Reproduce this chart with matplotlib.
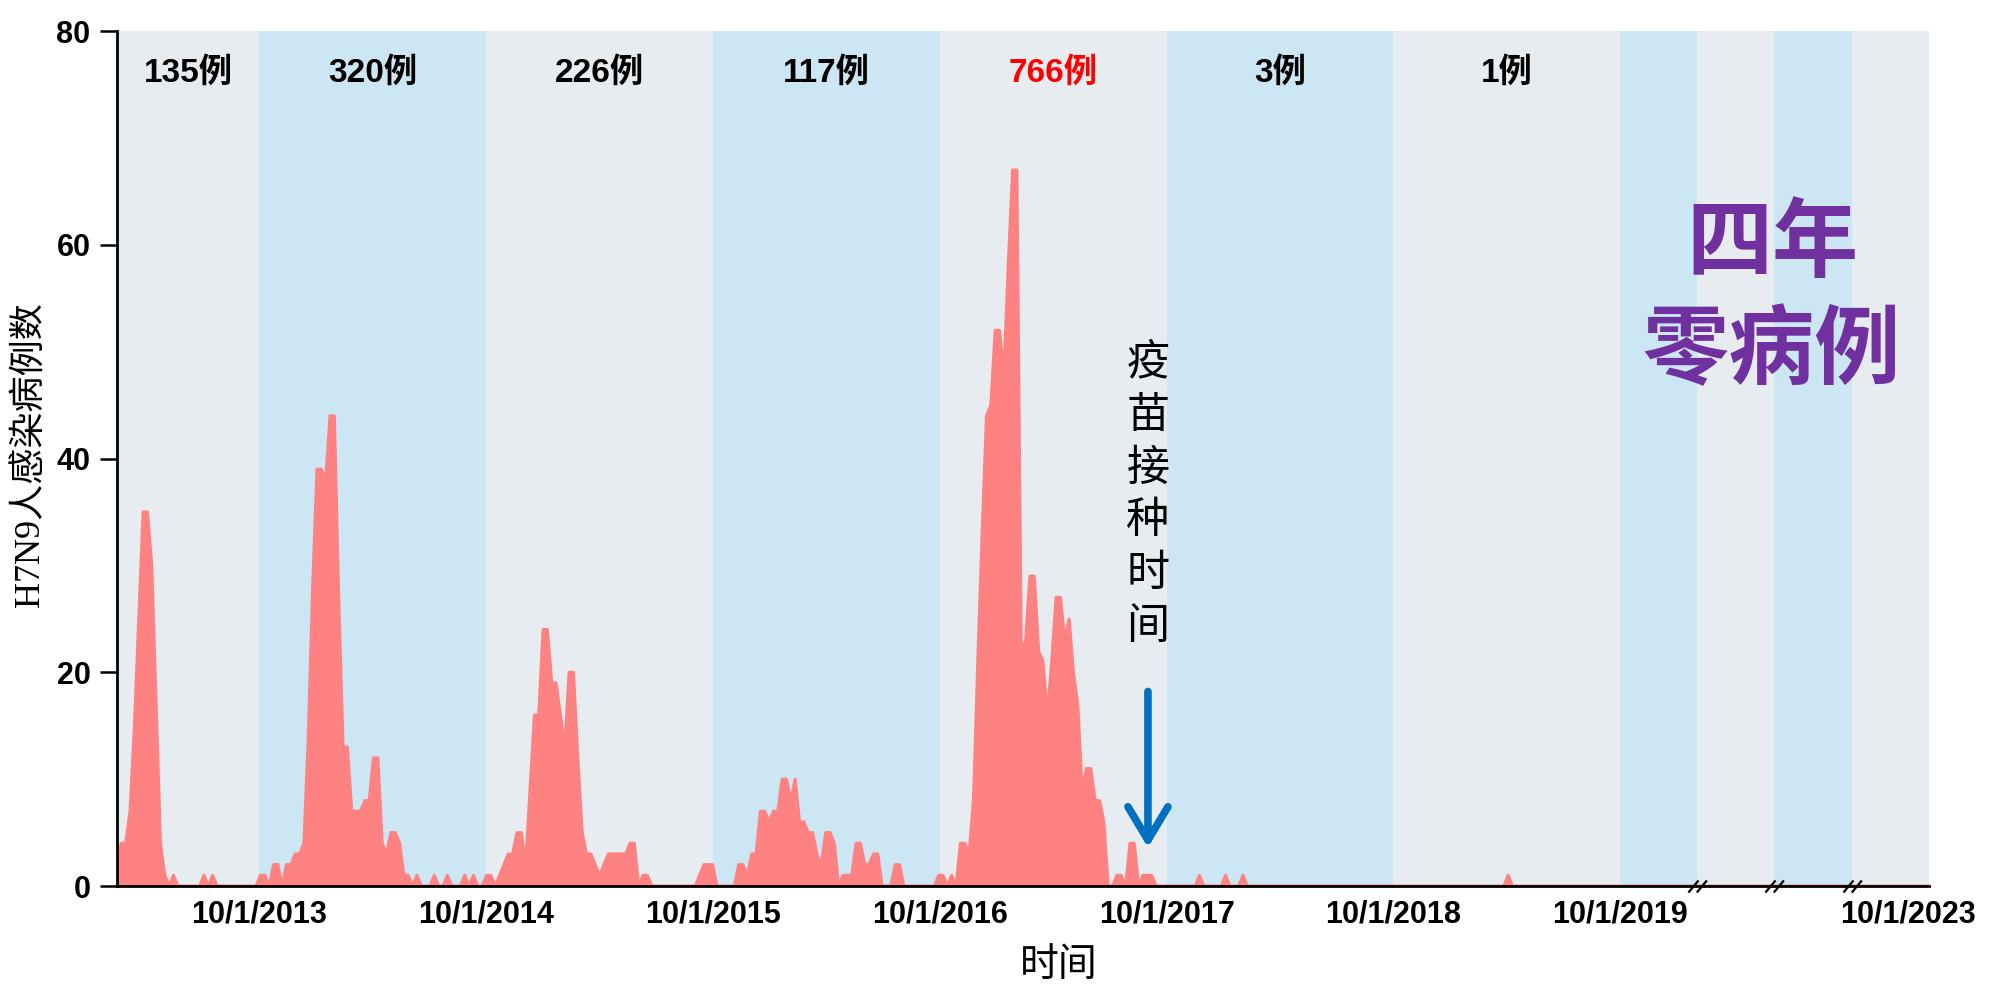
import datetime as dt
import numpy as np
import matplotlib
matplotlib.use("Agg")
import matplotlib.pyplot as plt
from matplotlib.path import Path
from matplotlib.transforms import ScaledTranslation

# ---------------------------------------------------------------------------
# Weekly H7N9 human infections, one list per season (1 Oct - 30 Sep).
# The first week of the series starts on week0; each season list continues
# directly from the previous one.
# ---------------------------------------------------------------------------
week0 = dt.date(2013, 2, 14)

cases_2012_13 = [2, 4, 4, 7, 15, 25, 35, 35, 30, 17, 4, 1, 0, 1, 0, 0, 0, 0, 0, 0,
                 1, 0, 1, 0, 0, 0, 0, 0, 0, 0, 0, 0, 0]
cases_2013_14 = [1, 1, 0, 2, 2, 0, 2, 2, 3, 3, 4, 14, 28, 39, 39, 38, 44, 44, 27, 13,
                 13, 7, 7, 7, 8, 8, 12, 12, 4, 3, 5, 5, 4, 1, 1, 0, 1, 0, 0, 0,
                 1, 0, 0, 1, 0, 0, 0, 1, 0, 1, 0, 0]
cases_2014_15 = [1, 1, 0, 1, 2, 3, 3, 5, 5, 2, 9, 16, 16, 24, 24, 19, 19, 16, 13, 20,
                 20, 12, 5, 3, 3, 2, 1, 2, 3, 3, 3, 3, 3, 4, 4, 0, 1, 1, 0, 0,
                 0, 0, 0, 0, 0, 0, 0, 0, 0, 1, 2, 2]
cases_2015_16 = [2, 0, 0, 0, 0, 0, 2, 2, 1, 3, 3, 7, 7, 6, 7, 7, 10, 10, 8, 10,
                 6, 6, 5, 5, 3, 2, 5, 5, 4, 0, 1, 1, 1, 4, 4, 2, 2, 3, 3, 0,
                 0, 0, 2, 2, 0, 0, 0, 0, 0, 0, 0, 0]
cases_2016_17 = [1, 1, 0, 1, 0, 4, 4, 3, 8, 21, 33, 44, 45, 52, 52, 48, 58, 67, 67, 22,
                 23, 29, 29, 22, 21, 16, 21, 27, 27, 23, 25, 20, 17, 9, 11, 11, 8, 8, 6, 0,
                 0, 1, 1, 0, 4, 4, 0, 1, 1, 1, 0, 0, 0]
cases_2017_18 = [0, 0, 0, 0, 0, 0, 0, 1, 0, 0, 0, 0, 0, 1, 0, 0, 0, 1, 0, 0,
                 0, 0, 0, 0, 0, 0, 0, 0, 0, 0, 0, 0, 0, 0, 0, 0, 0, 0, 0, 0,
                 0, 0, 0, 0, 0, 0, 0, 0, 0, 0, 0, 0]
cases_2018_19 = [0, 0, 0, 0, 0, 0, 0, 0, 0, 0, 0, 0, 0, 0, 0, 0, 0, 0, 0, 0,
                 0, 0, 0, 0, 0, 0, 1, 0, 0, 0, 0, 0, 0, 0, 0, 0, 0, 0, 0, 0,
                 0, 0, 0, 0, 0, 0, 0, 0, 0, 0, 0, 0]

# seasons after Oct 2019 are shown on a compressed axis; no cases reported
tail_cases = [0, 0, 0, 0]

season_totals = ["135例", "320例", "226例", "117例", "766例", "3例", "1例"]
season_total_colors = ["black", "black", "black", "black", "#FF0000", "black", "black"]
tick_labels = ["10/1/2013", "10/1/2014", "10/1/2015", "10/1/2016",
               "10/1/2017", "10/1/2018", "10/1/2019", "10/1/2023"]
vaccine_date = dt.date(2017, 9, 1)

# ---------------------------------------------------------------------------
ORIGIN = dt.date(2013, 10, 1)


def year_pos(d):
    return (d - ORIGIN).days / 365.25


TAIL_YEAR = 0.3406          # width of one compressed season
CJK = ["Noto Sans CJK SC"]
SANS_BOLD = ["Liberation Sans", "Noto Sans CJK SC"]
SERIF = ["Liberation Serif", "Noto Sans CJK SC"]
GREY = "#E6ECEF"
BLUE = "#CCE6F3"
RED = "#FF8282"

seasons = [cases_2012_13, cases_2013_14, cases_2014_15, cases_2015_16,
           cases_2016_17, cases_2017_18, cases_2018_19]
weekly = np.concatenate([np.asarray(s, float) for s in seasons])
x_weeks = np.array([year_pos(week0 + dt.timedelta(weeks=i)) for i in range(len(weekly))])

oct_bounds = [year_pos(dt.date(y, 10, 1)) for y in range(2013, 2020)]
x_start = year_pos(week0)
tail_edges = [oct_bounds[-1] + TAIL_YEAR * (k + 1) for k in range(len(tail_cases))]
x_end = tail_edges[-1]
band_edges = [x_start] + oct_bounds + tail_edges

x_all = np.concatenate([x_weeks, [oct_bounds[-1]], tail_edges])
y_all = np.concatenate([weekly, [0], tail_cases])

fig = plt.figure(figsize=(20, 10.08), dpi=100)
ax = fig.add_axes([0.0585, 0.121, 0.906, 0.8482])
ax.set_facecolor("white")

# alternating season bands
for i in range(len(band_edges) - 1):
    ax.axvspan(band_edges[i], band_edges[i + 1], color=GREY if i % 2 == 0 else BLUE,
               lw=0, zorder=0)

# case curve
ax.fill_between(x_all, y_all, 0, color=RED, lw=0, zorder=2)
ax.plot(x_all, y_all, color=RED, lw=2.2, zorder=2.5)

ax.set_xlim(x_start, x_end)
ax.set_ylim(0, 80)

# season totals
for i, (lab, col) in enumerate(zip(season_totals, season_total_colors)):
    xc = 0.5 * (band_edges[i] + band_edges[i + 1])
    ax.text(xc, 76.1, lab, ha="center", va="center", fontsize=24, fontweight="bold",
            family=SANS_BOLD, color=col, zorder=5)

# axes styling
for side in ("top", "right"):
    ax.spines[side].set_visible(False)
for side in ("left", "bottom"):
    ax.spines[side].set_linewidth(2.0)
    ax.spines[side].set_zorder(4)

ax.set_yticks([0, 20, 40, 60, 80])
ax.tick_params(axis="y", length=12, width=1.8, pad=7)
ax.tick_params(axis="x", length=0, pad=10)
xt = oct_bounds + [x_end]
ax.set_xticks(xt)
ax.set_xticklabels(tick_labels)
for lab in ax.get_xticklabels() + ax.get_yticklabels():
    lab.set_fontsize(22)
    lab.set_fontweight("bold")
    lab.set_family(SANS_BOLD)
last = ax.get_xticklabels()[-1]
last.set_transform(last.get_transform() + ScaledTranslation(-0.21, 0, fig.dpi_scale_trans))

# axis break marks on the compressed part
brk = Path([(-9.0, -6.0), (1.0, 6.0), (-0.7, -6.0), (9.3, 6.0)],
           [Path.MOVETO, Path.LINETO, Path.MOVETO, Path.LINETO])
ax.plot(tail_edges[:-1], [0] * (len(tail_edges) - 1), ls="none", marker=brk,
        markersize=13.5, markeredgecolor="black", markeredgewidth=1.6,
        markerfacecolor="none", clip_on=False, zorder=6)

ax.set_xlabel("时间", fontsize=28, family=CJK)
ax.xaxis.set_label_coords(0.52, -0.092)
ax.xaxis.label.set_va("center")
ax.set_ylabel("H7N9人感染病例数", fontsize=26, family=SERIF)
ax.yaxis.set_label_coords(-0.0475, 0.505)
ax.yaxis.label.set_va("center")

# vaccination marker
xv = year_pos(vaccine_date)
ax.text(xv, 36.6, "\n".join("疫苗接种时间"), ha="center", va="center", fontsize=31,
        family=CJK, linespacing=1.26, zorder=6)
ax.annotate("", xy=(xv, 3.6), xytext=(xv, 18.2),
            arrowprops=dict(arrowstyle="->,head_length=0.6,head_width=0.36",
                            color="#0070C0", lw=5.5, mutation_scale=40,
                            shrinkA=0, shrinkB=0),
            zorder=6)

ax.text(0.9134, 0.6874, "四年\n零病例", transform=ax.transAxes, ha="center",
        va="center", fontsize=62, fontweight="bold", color="#7030A0",
        family=CJK, linespacing=1.26, zorder=6)

fig.savefig("out.png", dpi=100)
